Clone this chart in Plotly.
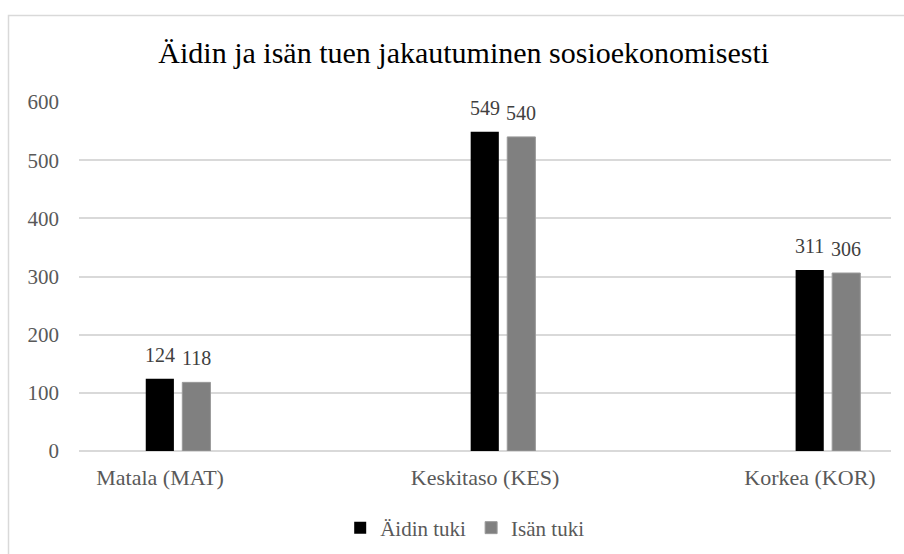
import plotly.graph_objects as go

categories = ["Matala (MAT)", "Keskitaso (KES)", "Korkea (KOR)"]
aidin_tuki = [124, 549, 311]
isan_tuki = [118, 540, 306]
series_names = ["Äidin tuki", "Isän tuki"]
y_ticks = [0, 100, 200, 300, 400, 500, 600]
title_text = "Äidin ja isän tuen jakautuminen sosioekonomisesti"

FONT = "Liberation Serif"

fig = go.Figure()
fig.add_trace(go.Bar(
    x=categories, y=aidin_tuki, name=series_names[0],
    marker=dict(color="#000000", line=dict(color="#000000", width=0)),
))
fig.add_trace(go.Bar(
    x=categories, y=isan_tuki, name=series_names[1],
    marker=dict(color="#808080", line=dict(color="#9a9a9a", width=1)),
))

# data labels above each bar
for series, shift in ((aidin_tuki, -18.3), (isan_tuki, 18.3)):
    for cat, val in zip(categories, series):
        fig.add_annotation(
            x=cat, y=val, text=str(val), showarrow=False,
            xanchor="center", yanchor="bottom", xshift=shift, yshift=11,
            font=dict(family=FONT, size=20, color="#404040"),
        )

fig.update_layout(
    width=904, height=554,
    margin=dict(l=79, r=13, t=102, b=103, autoexpand=False),
    paper_bgcolor="white", plot_bgcolor="white",
    barmode="group", bargap=0.775, bargroupgap=0.23,
    font=dict(family=FONT, color="#595959"),
    title=dict(text=title_text, x=0.513, xref="container", xanchor="center",
               y=1 - 52 / 554, yref="container", yanchor="middle",
               font=dict(family=FONT, size=30, color="#000000")),
    showlegend=True,
    legend=dict(orientation="h", x=0.475, xanchor="center",
                y=1 - 528 / 554, yref="container", yanchor="middle",
                font=dict(family=FONT, size=21, color="#595959"),
                itemwidth=30, bgcolor="rgba(0,0,0,0)"),
)
fig.update_xaxes(
    type="category", range=[-0.305, 2.194],
    showgrid=False, zeroline=False, showline=False, ticks="",
    tickfont=dict(family=FONT, size=22, color="#595959"),
    ticklabelshift=-18, ticklabelstandoff=11, automargin=False,
)
fig.update_yaxes(
    range=[0, 600], tickvals=y_ticks,
    showgrid=True, gridcolor="#d9d9d9", gridwidth=1.5,
    zeroline=True, zerolinecolor="#d9d9d9", zerolinewidth=1.5,
    showline=False, ticks="",
    tickfont=dict(family=FONT, size=21, color="#595959"),
    ticklabelstandoff=19, automargin=False,
)

# chart-area border (light gray)
fig.add_shape(type="rect", xref="paper", yref="paper",
              x0=(8.5 - 79) / 812, x1=1.05, y0=-0.35, y1=(451 - 15.5) / 349,
              line=dict(color="#d9d9d9", width=1.5), fillcolor="rgba(0,0,0,0)",
              layer="below")

fig.write_html("out.html")
